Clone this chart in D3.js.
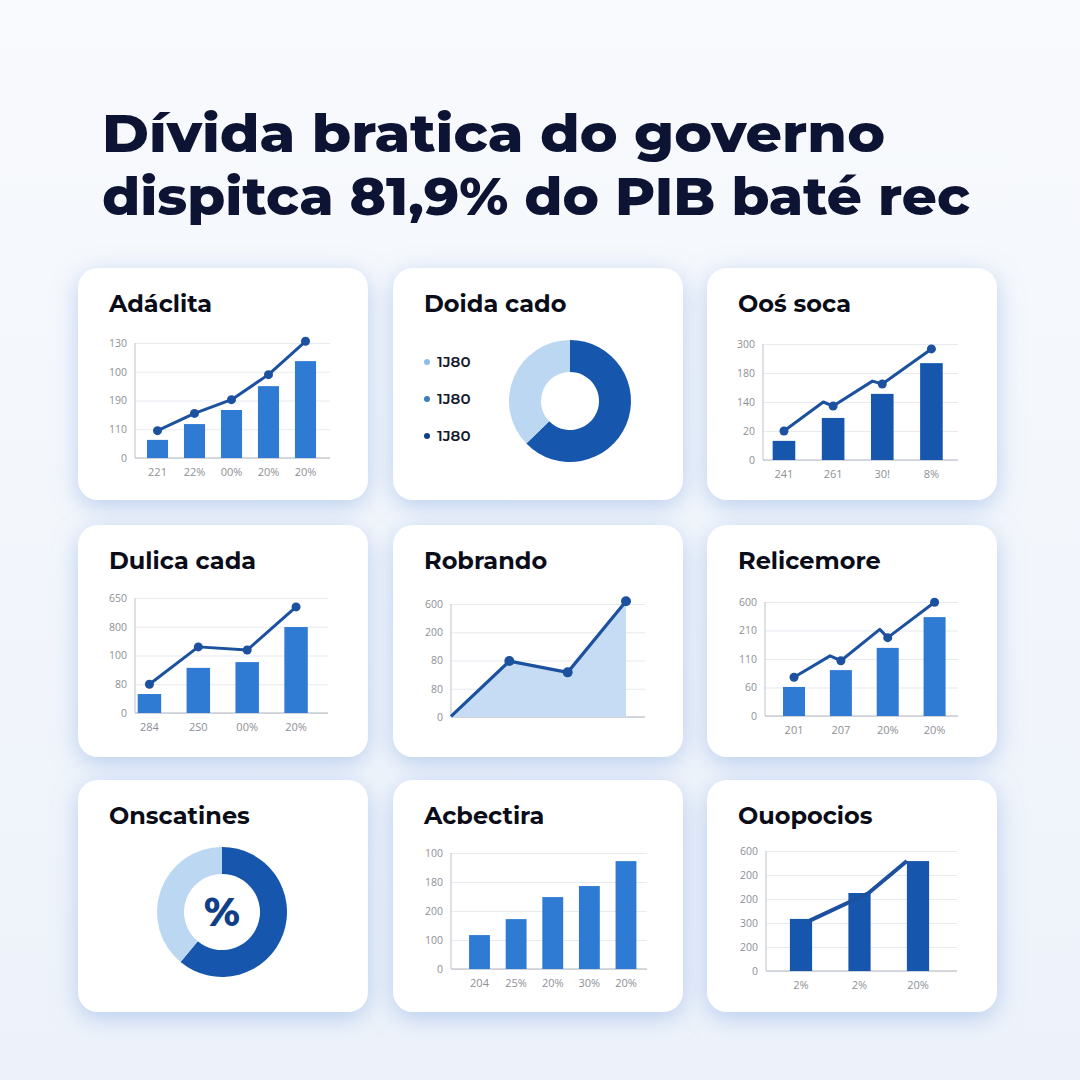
<!DOCTYPE html>
<html>
<head>
<meta charset="utf-8">
<script src="https://cdn.jsdelivr.net/npm/d3@7"></script>
<style>
  html, body { margin: 0; padding: 0; background: #f4f7fc; }
  svg { display: block; }
  .tick text { font-family: "Open Sans", sans-serif; }
</style>
</head>
<body>
<svg id="chart" width="1080" height="1080"></svg>
<script>
// ---- data (eixo y em "unidades de grelha") ----
var headline = ["Dívida bratica do governo", "dispitca 81,9% do PIB baté rec"];
var cardTitles = ["Adáclita", "Doida cado", "Ooś soca", "Dulica cada", "Robrando", "Relicemore", "Onscatines", "Acbectira", "Ouopocios"];

var c1Cats = ["221", "22%", "00%", "20%", "20%"];
var c1Ticks = ["0", "110", "190", "100", "130"];
var c1Bars = [0.63, 1.18, 1.67, 2.5, 3.37];
var c1Line = [0.95, 1.55, 2.03, 2.9, 4.06];

var c2Legend = ["1J80", "1J80", "1J80"];
var c2Slices = [62.7, 37.3];

var c3Cats = ["241", "261", "30!", "8%"];
var c3Ticks = ["0", "20", "140", "180", "300"];
var c3Bars = [0.66, 1.45, 2.28, 3.34];
var c3LineX = [0, 0.8, 1, 1.8, 2, 3];
var c3LineY = [1.0, 2.0, 1.86, 2.72, 2.62, 3.83];

var c4Cats = ["284", "2S0", "00%", "20%"];
var c4Ticks = ["0", "80", "100", "800", "650"];
var c4Bars = [0.66, 1.57, 1.77, 2.99];
var c4Line = [1.0, 2.3, 2.19, 3.69];

var c5Ticks = ["0", "80", "80", "200", "600"];
var c5Area = [0.02, 1.98, 1.58, 4.1];

var c6Cats = ["201", "207", "20%", "20%"];
var c6Ticks = ["0", "60", "110", "210", "600"];
var c6Bars = [1.02, 1.61, 2.39, 3.47];
var c6LineX = [0, 0.77, 1, 1.83, 2, 3];
var c6LineY = [1.36, 2.11, 1.94, 3.04, 2.75, 3.99];

var c7Slices = [61, 39];
var c7Label = "%";

var c8Cats = ["204", "25%", "20%", "30%", "20%"];
var c8Ticks = ["0", "100", "200", "180", "100"];
var c8Bars = [1.17, 1.72, 2.48, 2.86, 3.72];

var c9Cats = ["2%", "2%", "20%"];
var c9Ticks = ["0", "200", "300", "200", "200", "600"];
var c9Bars = [2.17, 3.25, 4.58];
var c9LineX = [0.15, 1.15, 1.81];
var c9LineY = [2.1, 3.24, 4.58];

// ---- styles ----
var INK = "#0d1433", GRID = "#e7eaef", AXIS = "#c9cdd3", LBL = "#8d9096";
var MID = "#2f7bd4", DARK = "#1657ad", LINE = "#1b519f", LIGHT = "#bcd7f2", AREA = "#c6dcf4";
var TFONT = "Montserrat, Inter, 'Open Sans', sans-serif";

var svg = d3.select("#chart");
var defs = svg.append("defs");
var bg = defs.append("linearGradient").attr("id", "bg").attr("x1", 0).attr("y1", 0).attr("x2", 0).attr("y2", 1);
bg.append("stop").attr("offset", "0%").attr("stop-color", "#f8fafd");
bg.append("stop").attr("offset", "100%").attr("stop-color", "#edf2fa");
var sh = defs.append("filter").attr("id", "sh").attr("x", "-30%").attr("y", "-30%").attr("width", "160%").attr("height", "160%");
sh.append("feDropShadow").attr("dx", 0).attr("dy", 6).attr("stdDeviation", 12).attr("flood-color", "#8aaee3").attr("flood-opacity", 0.55);

svg.append("rect").attr("width", 1080).attr("height", 1080).attr("fill", "url(#bg)");

// headline
headline.forEach(function (t, i) {
  svg.append("text").attr("x", 102).attr("y", 152 + i * 63).text(t)
    .attr("font-family", TFONT).attr("font-weight", 800).attr("font-size", 52).attr("fill", INK)
    .attr("textLength", i === 0 ? 783 : 868).attr("lengthAdjust", "spacingAndGlyphs");
});

// cards
var colX = [78, 393, 707], rowY = [268, 525, 780];
cardTitles.forEach(function (t, i) {
  var x = colX[i % 3], y = rowY[Math.floor(i / 3)];
  svg.append("rect").attr("x", x).attr("y", y).attr("width", 290).attr("height", 232).attr("rx", 20)
    .attr("fill", "#ffffff").attr("filter", "url(#sh)");
  svg.append("text").attr("x", x + 31).attr("y", y + 44).text(t)
    .attr("font-family", TFONT).attr("font-weight", 700).attr("font-size", 24).attr("fill", "#0a0d18");
});

// ---- helpers ----
function frame(p) {
  var g = svg.append("g");
  var y = d3.scaleLinear().domain([0, p.ticks.length - 1]).range([p.bottom, p.top]);
  var ya = d3.axisLeft(y).tickValues(d3.range(p.ticks.length)).tickFormat(function (d) { return p.ticks[d]; })
    .tickSize(-(p.right - p.left)).tickPadding(8);
  var gy = g.append("g").attr("transform", "translate(" + p.left + ",0)").call(ya);
  gy.select(".domain").remove();
  gy.selectAll(".tick line").attr("stroke", GRID).attr("stroke-width", 1.2);
  gy.selectAll(".tick text").attr("fill", LBL).attr("font-size", 10.5);
  g.append("line").attr("x1", p.left).attr("x2", p.left).attr("y1", p.top).attr("y2", p.bottom).attr("stroke", AXIS).attr("stroke-width", 1.2);
  g.append("line").attr("x1", p.left).attr("x2", p.right).attr("y1", p.bottom).attr("y2", p.bottom).attr("stroke", AXIS).attr("stroke-width", 1.4);
  return { g: g, y: y };
}

function barPanel(p) {
  var f = frame(p), g = f.g, y = f.y;
  var x = d3.scaleBand().domain(d3.range(p.bars.length)).range(p.band).paddingInner(p.pad).paddingOuter(p.pad / 2);
  g.selectAll(".bar").data(p.bars).join("rect")
    .attr("x", function (d, i) { return x(i); }).attr("width", x.bandwidth())
    .attr("y", function (d) { return y(d); }).attr("height", function (d) { return p.bottom - y(d); })
    .attr("fill", p.color);
  var xa = d3.axisBottom(x).tickSize(0).tickPadding(10).tickFormat(function (d) { return p.cats[d]; });
  var gx = g.append("g").attr("transform", "translate(0," + p.bottom + ")").call(xa);
  gx.select(".domain").remove();
  gx.selectAll(".tick text").attr("fill", LBL).attr("font-size", 11);
  if (p.lineY) {
    var xi = function (v) { return x(0) + x.bandwidth() / 2 + v * x.step(); };
    var pts = p.lineY.map(function (v, i) { return [p.lineX ? p.lineX[i] : i, v]; });
    g.append("path").datum(pts).attr("fill", "none").attr("stroke", LINE).attr("stroke-width", p.lw || 3)
      .attr("stroke-linejoin", "round")
      .attr("d", d3.line().x(function (d) { return xi(d[0]); }).y(function (d) { return y(d[1]); }));
    if (p.dots !== false) {
      g.selectAll(".dot").data(pts.filter(function (d) { return d[0] % 1 === 0; })).join("circle")
        .attr("cx", function (d) { return xi(d[0]); }).attr("cy", function (d) { return y(d[1]); })
        .attr("r", 4.5).attr("fill", LINE);
    }
  }
}

function donut(cx, cy, ro, ri, vals) {
  var arc = d3.arc().innerRadius(ri).outerRadius(ro);
  var pie = d3.pie().sort(null)(vals);
  var g = svg.append("g").attr("transform", "translate(" + cx + "," + cy + ")");
  g.selectAll("path").data(pie).join("path").attr("d", arc).attr("fill", function (d, i) { return i === 0 ? DARK : LIGHT; });
  return g;
}

// ---- panel 1 ----
barPanel({ left: 135, right: 330, top: 343, bottom: 458, band: [139, 324], pad: 0.43, color: MID,
  ticks: c1Ticks, cats: c1Cats, bars: c1Bars, lineY: c1Line });

// ---- panel 2 ----
var legCol = ["#8fbce6", "#3e7cc4", "#0f3f86"];
c2Legend.forEach(function (t, i) {
  svg.append("circle").attr("cx", 427).attr("cy", 362 + i * 37).attr("r", 3).attr("fill", legCol[i]);
  svg.append("text").attr("x", 437).attr("y", 367 + i * 37).text(t)
    .attr("font-family", TFONT).attr("font-weight", 600).attr("font-size", 15).attr("fill", "#141a2c");
});
donut(570, 401, 61, 29, c2Slices);

// ---- panel 3 ----
barPanel({ left: 763, right: 958, top: 344, bottom: 460, band: [759.4, 956], pad: 0.54, color: DARK,
  ticks: c3Ticks, cats: c3Cats, bars: c3Bars, lineX: c3LineX, lineY: c3LineY });

// ---- panel 4 ----
barPanel({ left: 135, right: 328, top: 598, bottom: 713, band: [125, 320.5], pad: 0.52, color: MID,
  ticks: c4Ticks, cats: c4Cats, bars: c4Bars, lineY: c4Line });

// ---- panel 5 (área) ----
(function () {
  var p = { left: 451, right: 645, top: 604, bottom: 717, ticks: c5Ticks };
  var f = frame(p), g = f.g, y = f.y;
  var x = d3.scaleLinear().domain([0, c5Area.length - 1]).range([451, 626]);
  g.append("path").datum(c5Area).attr("fill", AREA)
    .attr("d", d3.area().x(function (d, i) { return x(i); }).y0(p.bottom).y1(function (d) { return y(d); }));
  g.append("path").datum(c5Area).attr("fill", "none").attr("stroke", LINE).attr("stroke-width", 3.2).attr("stroke-linejoin", "round")
    .attr("d", d3.line().x(function (d, i) { return x(i); }).y(function (d) { return y(d); }));
  g.selectAll(".dot").data(c5Area.slice(1)).join("circle")
    .attr("cx", function (d, i) { return x(i + 1); }).attr("cy", function (d) { return y(d); }).attr("r", 5).attr("fill", LINE);
})();

// ---- panel 6 ----
barPanel({ left: 765, right: 958, top: 602, bottom: 716, band: [770.6, 958], pad: 0.53, color: MID,
  ticks: c6Ticks, cats: c6Cats, bars: c6Bars, lineX: c6LineX, lineY: c6LineY });

// ---- panel 7 ----
var d7 = donut(222, 912, 65, 38, c7Slices);
d7.append("text").attr("text-anchor", "middle").attr("dy", "0.36em").text(c7Label)
  .attr("font-family", TFONT).attr("font-weight", 800).attr("font-size", 40).attr("fill", "#113f88");

// ---- panel 8 ----
barPanel({ left: 451, right: 647, top: 853, bottom: 969, band: [461.2, 644.3], pad: 0.43, color: MID,
  ticks: c8Ticks, cats: c8Cats, bars: c8Bars });

// ---- panel 9 ----
barPanel({ left: 766, right: 957, top: 851, bottom: 971, band: [771.75, 947.25], pad: 0.62, color: DARK,
  ticks: c9Ticks, cats: c9Cats, bars: c9Bars, lineX: c9LineX, lineY: c9LineY, dots: false, lw: 4 });
</script>
</body>
</html>
